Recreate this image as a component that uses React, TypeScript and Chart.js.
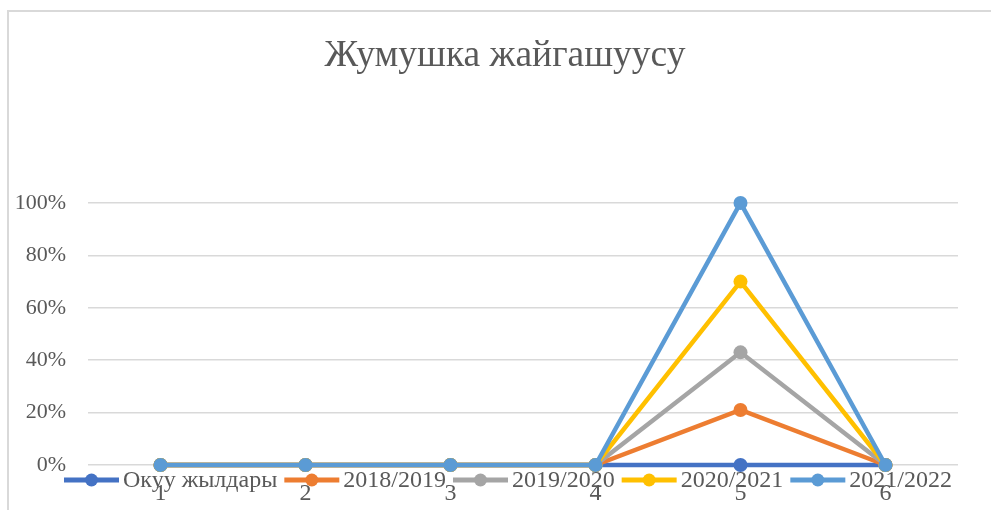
import React, { useEffect, useRef } from 'react';
import { Chart, registerables } from 'chart.js';

Chart.register(...registerables);

const categories = ['1', '2', '3', '4', '5', '6'];
const seriesNames = ['Окуу жылдары', '2018/2019', '2019/2020', '2020/2021', '2021/2022'];
const okuuJyldary = [0, 0, 0, 0, 0, 0];
const year2018 = [0, 0, 0, 0, 0.21, 0];
const year2019 = [0, 0, 0, 0, 0.43, 0];
const year2020 = [0, 0, 0, 0, 0.70, 0];
const year2021 = [0, 0, 0, 0, 1.0, 0];
const seriesValues = [okuuJyldary, year2018, year2019, year2020, year2021];
const seriesColors = ['#4472C4', '#ED7D31', '#A5A5A5', '#FFC000', '#5B9BD5'];
const titleText = 'Жумушка жайгашуусу';

const SERIF = '"Liberation Serif", "Times New Roman", serif';
const TEXT = '#595959';
const GRID = '#d9d9d9';

const decorPlugin = {
  id: 'decor',
  beforeDraw(chart: any) {
    const ctx = chart.ctx;
    ctx.save();
    ctx.fillStyle = '#ffffff';
    ctx.fillRect(0, 0, chart.width, chart.height);
    ctx.strokeStyle = GRID;
    ctx.lineWidth = 2;
    ctx.beginPath();
    ctx.moveTo(8, chart.height + 2);
    ctx.lineTo(8, 11);
    ctx.lineTo(chart.width + 2, 11);
    ctx.stroke();
    ctx.restore();
  },
  afterDraw(chart: any) {
    const ctx = chart.ctx;
    ctx.save();
    // Title
    ctx.fillStyle = TEXT;
    ctx.font = `37.5px ${SERIF}`;
    ctx.textAlign = 'center';
    ctx.textBaseline = 'alphabetic';
    ctx.fillText(titleText, 505, 66);

    // Legend
    ctx.font = `24px ${SERIF}`;
    const lineLen = 55;
    const textGap = 4;
    const gap = 7;
    const datasets = chart.data.datasets;
    const widths = datasets.map((d: any) => lineLen + textGap + ctx.measureText(d.label).width);
    const total = widths.reduce((a: number, b: number) => a + b, 0) + gap * (datasets.length - 1);
    let x = 508 - total / 2;
    const y = chart.chartArea.bottom + 15;
    datasets.forEach((d: any, i: number) => {
      ctx.strokeStyle = d.borderColor;
      ctx.lineWidth = 5;
      ctx.beginPath();
      ctx.moveTo(x, y);
      ctx.lineTo(x + lineLen, y);
      ctx.stroke();
      ctx.fillStyle = d.borderColor;
      ctx.beginPath();
      ctx.arc(x + lineLen / 2, y, 6.5, 0, Math.PI * 2);
      ctx.fill();
      ctx.fillStyle = TEXT;
      ctx.textAlign = 'left';
      ctx.textBaseline = 'middle';
      ctx.fillText(d.label, x + lineLen + textGap, y + 1);
      x += widths[i] + gap;
    });
    ctx.restore();
  },
};

export default function App() {
  const canvasRef = useRef<HTMLCanvasElement | null>(null);

  useEffect(() => {
    if (!canvasRef.current) return;
    const chart = new Chart(canvasRef.current, {
      type: 'line',
      data: {
        labels: categories,
        datasets: seriesNames.map((name, i) => ({
          label: name,
          data: seriesValues[i],
          borderColor: seriesColors[i],
          backgroundColor: seriesColors[i],
          pointBackgroundColor: seriesColors[i],
          pointBorderWidth: 0,
          pointRadius: 7,
          borderWidth: 4.5,
          tension: 0,
          fill: false,
          clip: false,
          order: seriesNames.length - i,
        })),
      },
      options: {
        animation: false,
        responsive: true,
        maintainAspectRatio: false,
        layout: { padding: { top: 203, right: 33, bottom: 0, left: 0 } },
        plugins: {
          legend: { display: false },
          title: { display: false },
          tooltip: { enabled: false },
        },
        scales: {
          x: {
            offset: true,
            grid: { display: false, drawTicks: false },
            border: { display: false },
            ticks: {
              color: TEXT,
              font: { family: SERIF, size: 24 },
              padding: 14,
              maxRotation: 0,
            },
            afterFit(scale: any) {
              scale.height = 45;
            },
          },
          y: {
            min: 0,
            max: 1,
            grid: { color: GRID, lineWidth: 1.5, drawTicks: false },
            border: { display: false },
            ticks: {
              stepSize: 0.2,
              color: TEXT,
              font: { family: SERIF, size: 22 },
              padding: 22,
              callback: (v: any) => `${Math.round(Number(v) * 100)}%`,
            },
            afterFit(scale: any) {
              scale.width = 88;
            },
          },
        },
      },
      plugins: [decorPlugin],
    });
    return () => chart.destroy();
  }, []);

  return (
    <div style={{ position: 'fixed', left: 0, top: 0, width: 991, height: 510, background: '#fff' }}>
      <canvas ref={canvasRef} />
    </div>
  );
}
